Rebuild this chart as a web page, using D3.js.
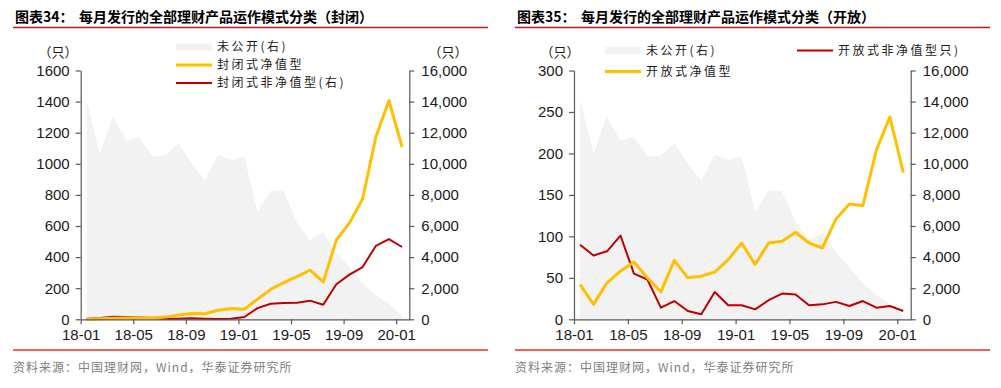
<!DOCTYPE html>
<html>
<head>
<meta charset="utf-8">
<script src="https://cdn.jsdelivr.net/npm/d3@7"></script>
<style>
  body { margin: 0; background: #fff; }
  svg { display: block; font-family: "Liberation Sans", Arial, sans-serif; }
  .cjk { font-family: "Noto Sans CJK SC", sans-serif; }
</style>
</head>
<body>
<svg id="canvas" width="1001" height="388"></svg>
<script>
'use strict';

/* categories: one point per month */
const months = ['18-01','18-02','18-03','18-04','18-05','18-06','18-07','18-08','18-09','18-10','18-11','18-12',
  '19-01','19-02','19-03','19-04','19-05','19-06','19-07','19-08','19-09','19-10','19-11','19-12','20-01'];
const tickMonths = ['18-01','18-05','18-09','19-01','19-05','19-09','20-01'];

/* 未公开 (right axis, same in both charts) */
const undisclosed = [14100, 10650, 13050, 11500, 11700, 10450, 10550, 11300, 10000, 8950, 10600, 10250,
  10450, 6900, 8250, 8250, 6250, 5100, 5600, 4300, 3350, 2300, 1550, 1000, 250];

/* 封闭式 */
const closedNav = [0, 3, 6, 8, 10, 10, 14, 28, 38, 36, 58, 70,
  64, 130, 192, 236, 275, 316, 240, 510, 620, 775, 1171, 1407, 1107];
const closedNonNav = [40, 90, 170, 150, 130, 90, 40, 40, 60, 40, 20, 40,
  150, 720, 1000, 1050, 1070, 1200, 940, 2250, 2870, 3360, 4720, 5160, 4650];

/* 开放式 */
const openNav = [42, 18, 44, 58, 69, 50, 33, 71, 50, 52, 57, 72,
  92, 66, 92, 94, 105, 92, 86, 121, 139, 137, 204, 244, 177];
const openNonNav = [90, 77, 82, 101, 55, 48, 14, 22, 10, 6, 33, 17,
  17, 12, 23, 31, 30, 17, 18, 21, 16, 22, 14, 16, 10];

const leftTicks34 = d3.range(0, 1601, 200);
const leftTicks35 = d3.range(0, 301, 50);
const rightTicks = d3.range(0, 16001, 2000);

const svg = d3.select('#canvas');
const AREA = '#f2f2f2', YELLOW = '#ffc000', RED = '#c00000';

/**
 * draw one panel: title, axes, area, lines, legend, footer
 */
function drawPanel(p){
  let g = svg.append('g');

  /* title + underline */
  g.append('text').attr('class', 'cjk')
    .attr('x', p.ox + 15).attr('y', 17).attr('dy', '0.35em')
    .style('font-size', '14px').style('font-weight', 'bold')
    .text(p.titleNo);
  g.append('text').attr('class', 'cjk')
    .attr('x', p.ox + 79).attr('y', 17).attr('dy', '0.35em')
    .style('font-size', '14px').style('font-weight', 'bold')
    .text(p.title);
  g.append('line')
    .attr('x1', p.ox + 13).attr('x2', p.ox + 488)
    .attr('y1', 27.5).attr('y2', 27.5)
    .style('stroke', '#c8161d').style('stroke-width', 1.5);

  /* scales */
  let x = d3.scaleLinear().domain([0, months.length]).range([p.x0, p.x1]);
  let yL = d3.scaleLinear().domain([0, p.leftMax]).range([319.3, 70.5]);
  let yR = d3.scaleLinear().domain([0, 16000]).range([319.3, 70.5]);
  let px = function(d, i){ return x(i + 0.45); };

  /* area */
  g.append('path').datum(undisclosed)
    .attr('d', d3.area().x(px).y0(yR(0)).y1(function(d){ return yR(d); }))
    .style('fill', AREA);

  /* lines */
  p.lines.forEach(function(s){
    let y = s.axis === 'right' ? yR : yL;
    g.append('path').datum(s.values)
      .attr('d', d3.line().x(px).y(function(d){ return y(d); }))
      .style('fill', 'none')
      .style('stroke', s.color)
      .style('stroke-width', s.width)
      .style('stroke-linejoin', 'round');
  });

  /* axes */
  let axL = g.append('g').attr('transform', 'translate(' + p.x0 + ',0)')
    .call(d3.axisLeft(yL).tickValues(p.leftTicks).tickFormat(d3.format('d'))
      .tickSize(5).tickSizeOuter(0).tickPadding(6));
  let axR = g.append('g').attr('transform', 'translate(' + p.x1 + ',0)')
    .call(d3.axisRight(yR).tickValues(rightTicks).tickFormat(d3.format(','))
      .tickSize(5).tickSizeOuter(0).tickPadding(7));
  let axX = g.append('g').attr('transform', 'translate(0,319.3)')
    .call(d3.axisBottom(x).tickValues(tickMonths.map(function(m){ return months.indexOf(m); }))
      .tickFormat(function(d){ return months[d]; })
      .tickSize(5).tickSizeOuter(0).tickPadding(5));
  [axL, axR, axX].forEach(function(a){
    a.attr('font-family', null).attr('font-size', null);
    a.selectAll('path, line').style('stroke', '#595959').style('stroke-width', 1.2);
    a.selectAll('text').style('font-size', '15px').style('fill', '#1a1a1a')
      .style('font-family', '"Liberation Sans", Arial, sans-serif');
  });

  /* unit labels */
  p.units.forEach(function(u){
    g.append('text').attr('class', 'cjk')
      .attr('x', u).attr('y', 52).attr('dy', '0.35em')
      .attr('text-anchor', 'middle')
      .style('font-size', '13px').style('fill', '#1a1a1a')
      .text('（只）');
  });

  /* legend */
  p.legend.forEach(function(l){
    if(l.type === 'area'){
      g.append('rect')
        .attr('x', l.x).attr('y', l.y - 3.5)
        .attr('width', 36).attr('height', 7)
        .style('fill', AREA);
    } else {
      g.append('line')
        .attr('x1', l.x).attr('x2', l.x + 36)
        .attr('y1', l.y).attr('y2', l.y)
        .style('stroke', l.color).style('stroke-width', l.width);
    }
    g.append('text').attr('class', 'cjk')
      .attr('x', l.x + 41).attr('y', l.y).attr('dy', '0.35em')
      .style('font-size', '12px').style('letter-spacing', '2.5px').style('fill', '#1a1a1a')
      .text(l.label);
  });

  /* footer */
  g.append('line')
    .attr('x1', p.ox + 13).attr('x2', p.ox + 488)
    .attr('y1', 350).attr('y2', 350)
    .style('stroke', '#e8321c').style('stroke-width', 1.5);
  g.append('text').attr('class', 'cjk')
    .attr('x', p.ox + 13).attr('y', 368).attr('dy', '0.35em')
    .style('font-size', '12px').style('letter-spacing', '1px').style('fill', '#808080')
    .text('资料来源：中国理财网，Wind，华泰证券研究所');
}

drawPanel({
  ox: 0, x0: 80.7, x1: 409.3,
  titleNo: '图表34：', title: '每月发行的全部理财产品运作模式分类（封闭）',
  leftMax: 1600, leftTicks: leftTicks34,
  units: [58, 448],
  lines: [
    { values: closedNonNav, axis: 'right', color: RED, width: 2 },
    { values: closedNav, axis: 'left', color: YELLOW, width: 3 }
  ],
  legend: [
    { type: 'area', x: 176, y: 47, label: '未公开(右)' },
    { type: 'line', x: 176, y: 65, color: YELLOW, width: 3, label: '封闭式净值型' },
    { type: 'line', x: 176, y: 83, color: RED, width: 2, label: '封闭式非净值型(右)' }
  ]
});

drawPanel({
  ox: 502, x0: 574, x1: 910.7,
  titleNo: '图表35：', title: '每月发行的全部理财产品运作模式分类（开放）',
  leftMax: 300, leftTicks: leftTicks35,
  units: [560],
  lines: [
    { values: openNonNav, axis: 'left', color: RED, width: 2 },
    { values: openNav, axis: 'left', color: YELLOW, width: 3 }
  ],
  legend: [
    { type: 'area', x: 605, y: 50.5, label: '未公开(右)' },
    { type: 'line', x: 605, y: 71.5, color: YELLOW, width: 3, label: '开放式净值型' },
    { type: 'line', x: 797, y: 50.5, color: RED, width: 2, label: '开放式非净值型只)' }
  ]
});
</script>
</body>
</html>
